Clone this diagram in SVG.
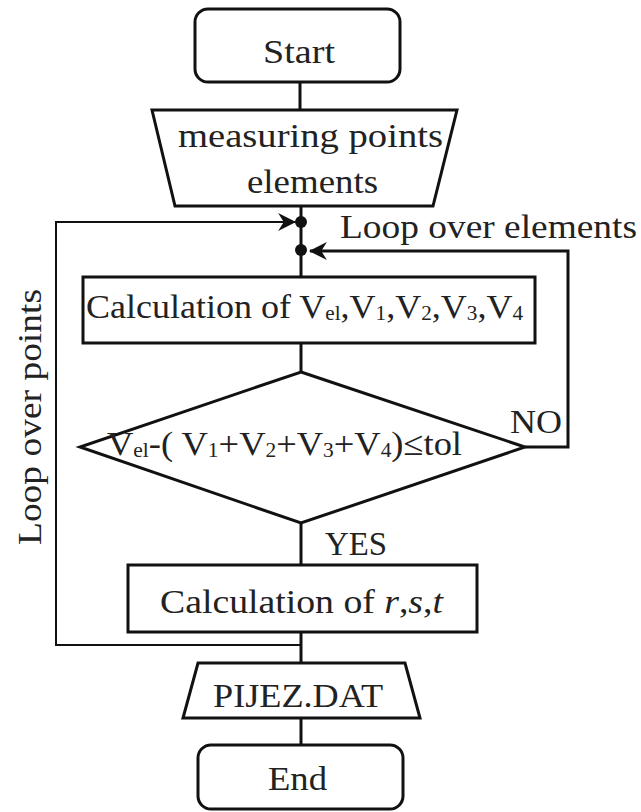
<svg xmlns="http://www.w3.org/2000/svg" width="641" height="812" viewBox="0 0 641 812">
<defs>
<style>
.shape{fill:#fff;stroke:#111;stroke-width:3}
.conn{fill:none;stroke:#111;stroke-width:3}
.thin{fill:none;stroke:#111;stroke-width:2}
text{font-family:"Liberation Serif","Times New Roman",serif;fill:#222;font-size:34px}
.sub{font-size:20px}
</style>
<marker id="arr" viewBox="0 0 12 12" refX="11" refY="6" markerWidth="12" markerHeight="12" markerUnits="userSpaceOnUse" orient="auto">
<path d="M0,0 L12,6 L0,12 L4,6 Z" fill="#111"/>
</marker>
<marker id="arr2" viewBox="0 0 16 16" refX="15" refY="8" markerWidth="18" markerHeight="18" markerUnits="userSpaceOnUse" orient="auto">
<path d="M0,0 L16,8 L0,16 L5,8 Z" fill="#111"/>
</marker>
</defs>
<g id="connectors">
<line class="conn" x1="300" y1="82" x2="300" y2="110"/>
<line class="conn" x1="301" y1="206" x2="301" y2="277"/>
<line class="conn" x1="301" y1="343" x2="301" y2="372"/>
<line class="conn" x1="301" y1="523" x2="301" y2="565"/>
<line class="conn" x1="301" y1="632" x2="301" y2="663"/>
<line class="conn" x1="301" y1="718" x2="301" y2="745"/>
<polyline class="conn" points="525,447 568,447 568,251 310,251" marker-end="url(#arr2)"/>
<polyline class="thin" points="301,645 56,645 56,222 295,222" marker-end="url(#arr2)"/>
<circle cx="301" cy="222" r="6" fill="#111"/>
<circle cx="301" cy="250" r="6" fill="#111"/>
<text x="340" y="238" textLength="297" lengthAdjust="spacingAndGlyphs">Loop over elements</text>
<text x="510" y="433" textLength="52" lengthAdjust="spacingAndGlyphs">NO</text>
<text x="325" y="555" textLength="62" lengthAdjust="spacingAndGlyphs">YES</text>
<text transform="translate(41,545) rotate(-90)" x="0" y="0" textLength="256" lengthAdjust="spacingAndGlyphs">Loop over points</text>
</g>
<g id="start">
<rect class="shape" x="195" y="9" width="205" height="73" rx="13"/>
<text x="263" y="63" textLength="72" lengthAdjust="spacingAndGlyphs">Start</text>
</g>
<g id="input">
<polygon class="shape" points="152,110 457,110 433,206 175,206"/>
<text x="178" y="147" textLength="265" lengthAdjust="spacingAndGlyphs">measuring points</text>
<text x="247" y="193" textLength="131" lengthAdjust="spacingAndGlyphs">elements</text>
</g>
<g id="calc1">
<rect class="shape" x="83" y="277" width="452" height="66"/>
<text x="86" y="318" textLength="437" lengthAdjust="spacingAndGlyphs">Calculation of V<tspan class="sub" dy="2">el</tspan><tspan dy="-2">,V</tspan><tspan class="sub" dy="2">1</tspan><tspan dy="-2">,V</tspan><tspan class="sub" dy="2">2</tspan><tspan dy="-2">,V</tspan><tspan class="sub" dy="2">3</tspan><tspan dy="-2">,V</tspan><tspan class="sub" dy="2">4</tspan></text>
</g>
<g id="decision">
<polygon class="shape" points="301,372 525,447 301,523 80,447"/>
<text x="107" y="455" textLength="355" lengthAdjust="spacingAndGlyphs">V<tspan class="sub" dy="2">el</tspan><tspan dy="-2">-( V</tspan><tspan class="sub" dy="2">1</tspan><tspan dy="-2">+V</tspan><tspan class="sub" dy="2">2</tspan><tspan dy="-2">+V</tspan><tspan class="sub" dy="2">3</tspan><tspan dy="-2">+V</tspan><tspan class="sub" dy="2">4</tspan><tspan dy="-2">)≤tol</tspan></text>
</g>
<g id="calc2">
<rect class="shape" x="128" y="565" width="349" height="67"/>
<text x="160" y="613" textLength="283" lengthAdjust="spacingAndGlyphs">Calculation of  <tspan font-style="italic">r</tspan>,<tspan font-style="italic">s</tspan>,<tspan font-style="italic">t</tspan></text>
</g>
<g id="output">
<polygon class="shape" points="198,663 405,663 420,718 183,718"/>
<text x="213" y="707" textLength="170" lengthAdjust="spacingAndGlyphs">PIJEZ.DAT</text>
</g>
<g id="end">
<rect class="shape" x="198" y="745" width="205" height="64" rx="13"/>
<text x="268" y="790" textLength="59" lengthAdjust="spacingAndGlyphs">End</text>
</g>
</svg>
